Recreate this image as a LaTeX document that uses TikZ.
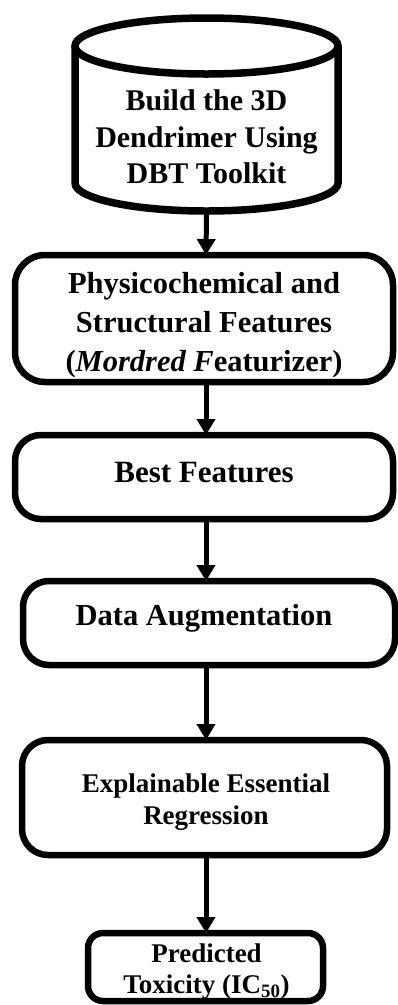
\documentclass[tikz,border=0pt]{standalone}
\usepackage{fontspec}
\setmainfont{Liberation Serif}
\usetikzlibrary{arrows.meta}
\begin{document}
\begin{tikzpicture}[x=1pt,y=1pt,
  flowbox/.style={draw=black, line width=6.5pt, fill=white, rounded corners=26pt,
    inner sep=0pt, outer sep=0pt},
  lbl/.style={anchor=base, inner sep=0pt, font=\bfseries},
  flow/.style={line width=5pt, -{Triangle[width=18pt,length=16pt]}},
]
\useasboundingbox (0,0) rectangle (398,-1005);

% database cylinder
\draw[line width=7.5pt, fill=white] (75,-46) -- (75,-183)
  arc[start angle=180, end angle=360, x radius=131.5, y radius=28] -- (338,-46);
\draw[line width=7.5pt, fill=white] (206.5,-46) ellipse[x radius=131.5, y radius=28];
\coordinate (cylbase) at (206.5,-214.75);
\node[lbl, font=\bfseries\fontsize{30}{36}\selectfont] (c1) at (206.5,-110) {Build the 3D};
\node[lbl, font=\bfseries\fontsize{30}{36}\selectfont] (c2) at (206.5,-147) {Dendrimer Using};
\node[lbl, font=\bfseries\fontsize{30}{36}\selectfont] (c3) at (206.5,-183) {DBT Toolkit};

% process boxes
\node[flowbox, rounded corners=30pt, minimum width=378pt, minimum height=127pt] (feat) at (204,-318.5) {};
\node[flowbox, minimum width=378pt, minimum height=84pt] (best) at (204,-477) {};
\node[flowbox, minimum width=372pt, minimum height=84pt] (aug) at (209,-623) {};
\node[flowbox, minimum width=365pt, minimum height=115pt] (reg) at (204.5,-797.5) {};
\node[flowbox, rounded corners=15pt, minimum width=235pt, minimum height=68pt] (tox) at (205.5,-967) {};

\node[lbl, font=\bfseries\fontsize{30.5}{36}\selectfont] (f1) at (204,-293) {Physicochemical and};
\node[lbl, font=\bfseries\fontsize{30.5}{36}\selectfont] (f2) at (204,-332) {Structural Features};
\node[lbl, font=\bfseries\fontsize{30.5}{36}\selectfont] (f3) at (204,-371) {(\textit{Mordred F}eaturizer)};
\node[lbl, font=\bfseries\fontsize{31}{36}\selectfont] (b1) at (204,-482) {Best Features};
\node[lbl, font=\bfseries\fontsize{30.5}{36}\selectfont] (a1) at (204,-625) {Data Augmentation};
\node[lbl, font=\bfseries\fontsize{27}{32}\selectfont] (r1) at (206,-792) {Explainable Essential};
\node[lbl, font=\bfseries\fontsize{27}{32}\selectfont] (r2) at (206,-824) {Regression};
\node[lbl, font=\bfseries\fontsize{27}{32}\selectfont] (t1) at (206.5,-962) {Predicted};
\node[lbl, font=\bfseries\fontsize{27}{32}\selectfont] (t2) at (206.5,-993) {Toxicity (IC\textsubscript{50})};

% connectors
\coordinate (spine) at (206,0);
\draw[flow] (cylbase) -- (feat.north -| spine);
\draw[flow] (feat.south -| spine) -- (best.north -| spine);
\draw[flow] (best.south -| spine) -- (aug.north -| spine);
\draw[flow] (aug.south -| spine) -- (reg.north -| spine);
\draw[flow] (reg.south -| spine) -- (tox.north -| spine);
\end{tikzpicture}
\end{document}
